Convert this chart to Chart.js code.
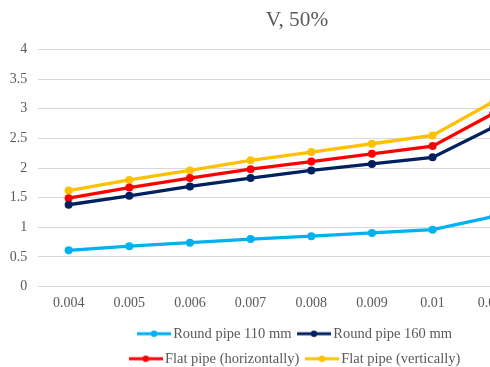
<!DOCTYPE html>
<html>
<head>
<meta charset="utf-8">
<script src="https://cdn.jsdelivr.net/npm/chart.js@4.4.1/dist/chart.umd.min.js"></script>
<style>
  html, body { margin: 0; padding: 0; background: #ffffff; overflow: hidden; }
  #wrap { position: absolute; left: 0; top: 0; width: 594px; height: 376px; }
</style>
</head>
<body>
<div id="wrap"><canvas id="c" width="594" height="376"></canvas></div>
<script>
const categories = ['0.004', '0.005', '0.006', '0.007', '0.008', '0.009', '0.01', '0.011'];
const seriesNames = ['Round pipe 110 mm', 'Round pipe 160 mm', 'Flat pipe (horizontally)', 'Flat pipe (vertically)'];
const round110 = [0.61, 0.68, 0.74, 0.80, 0.85, 0.905, 0.96, 1.18];
const round160 = [1.38, 1.53, 1.69, 1.83, 1.96, 2.07, 2.18, 2.69];
const flatHorizontal = [1.49, 1.67, 1.83, 1.98, 2.11, 2.24, 2.37, 2.92];
const flatVertical = [1.62, 1.80, 1.96, 2.13, 2.27, 2.41, 2.55, 3.12];
const seriesColors = ['#00B0F0', '#002060', '#FF0000', '#FFC000'];
const titleText = 'V, 50%';
const yTicks = { min: 0, max: 4, step: 0.5 };

const FONT = "'Liberation Serif', 'Times New Roman', serif";
const TXT = '#595959';

function legendIcon(color) {
  const cv = document.createElement('canvas');
  cv.width = 34; cv.height = 8;
  const g = cv.getContext('2d');
  g.strokeStyle = color; g.lineWidth = 3;
  g.beginPath(); g.moveTo(0, 4); g.lineTo(34, 4); g.stroke();
  g.fillStyle = color;
  g.beginPath(); g.arc(17, 4, 3.2, 0, Math.PI * 2); g.fill();
  return cv;
}
const icons = seriesColors.map(legendIcon);

const legendRows = {
  id: 'legendRows',
  beforeLayout(chart) {
    const lg = chart.legend;
    if (lg && !lg._rowsPatched) {
      const orig = lg.update.bind(lg);
      lg.update = function (mw, mh, m) { return orig(Math.min(mw, 360), mh, m); };
      lg._rowsPatched = true;
    }
  }
};

const allSeries = [round110, round160, flatHorizontal, flatVertical];
const datasets = allSeries.map((d, i) => ({
  label: seriesNames[i],
  data: d,
  borderColor: seriesColors[i],
  backgroundColor: seriesColors[i],
  borderWidth: 3.3,
  pointRadius: 4,
  pointHoverRadius: 4,
  pointBorderWidth: 0,
  pointStyle: 'circle',
  tension: 0,
  fill: false,
  clip: false
}));

new Chart(document.getElementById('c'), {
  type: 'line',
  data: { labels: categories, datasets: datasets },
  plugins: [legendRows],
  options: {
    responsive: false,
    animation: false,
    devicePixelRatio: 1,
    layout: { padding: { left: 0, right: 0, top: 0, bottom: 0 } },
    plugins: {
      tooltip: { enabled: false },
      title: {
        display: true,
        text: titleText,
        color: TXT,
        font: { family: FONT, size: 21.3, weight: 'normal', lineHeight: 1.2 },
        padding: { top: 8, bottom: 16 }
      },
      legend: {
        display: true,
        position: 'bottom',
        labels: {
          color: TXT,
          font: { family: FONT, size: 14.5 },
          usePointStyle: true,
          pointStyleWidth: 24,
          padding: 10.5,
          generateLabels: (chart) => Chart.defaults.plugins.legend.labels.generateLabels(chart)
            .map((l, i) => Object.assign(l, { pointStyle: icons[i] }))
        }
      }
    },
    scales: {
      x: {
        type: 'category',
        offset: true,
        grid: { display: false, drawTicks: false },
        border: { display: false },
        ticks: { color: TXT, font: { family: FONT, size: 14 }, padding: 8, maxRotation: 0, autoSkip: false },
        afterFit: (s) => { s.height = 29.5; }
      },
      y: {
        min: yTicks.min,
        max: yTicks.max,
        grid: { color: '#d9d9d9', lineWidth: 1, drawTicks: false },
        border: { display: false },
        ticks: {
          stepSize: yTicks.step, color: TXT, font: { family: FONT, size: 14 }, padding: 11,
          callback: (v) => String(Number(v.toFixed(2)))
        },
        afterFit: (s) => { s.width = 38.3; }
      },
      yRight: {
        position: 'right',
        min: yTicks.min,
        max: yTicks.max,
        grid: { display: false, drawTicks: false },
        border: { display: false },
        ticks: { display: false },
        afterFit: (s) => { s.width = 70.4; }
      }
    }
  }
});
</script>
</body>
</html>
